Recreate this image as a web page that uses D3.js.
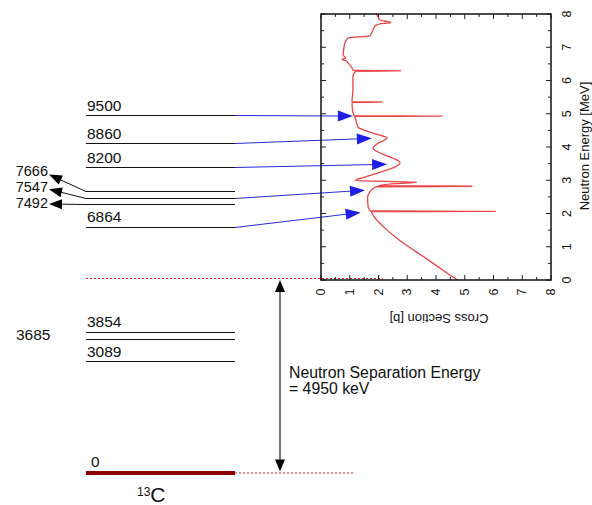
<!DOCTYPE html>
<html>
<head>
<meta charset="utf-8">
<script src="https://cdn.jsdelivr.net/npm/d3@7"></script>
<style>
  body { margin: 0; background: #fff; }
  svg { display: block; font-family: "Liberation Sans", Arial, sans-serif; }
</style>
</head>
<body>
<svg id="chart" width="592" height="505"></svg>
<script>
// cross section curve, [neutron energy MeV, sigma b]
var crossSection = [
  [0.00, 4.75], [0.25, 4.32], [0.50, 3.90], [0.75, 3.48], [1.00, 3.05],
  [1.25, 2.65], [1.50, 2.30], [1.75, 2.00], [1.90, 1.85], [2.00, 1.78],
  [2.055, 1.75], [2.066, 6.10], [2.078, 1.72], [2.20, 1.64], [2.47, 1.62],
  [2.65, 1.70], [2.77, 1.85], [2.805, 1.95], [2.82, 5.25], [2.835, 2.00],
  [2.90, 2.60], [2.94, 3.33], [2.99, 1.18], [3.10, 1.55], [3.25, 2.10],
  [3.37, 2.50], [3.52, 2.75], [3.65, 2.55], [3.80, 2.10], [3.97, 1.81],
  [4.12, 2.00], [4.27, 2.30], [4.42, 1.80], [4.60, 1.29], [4.90, 1.18],
  [4.92, 1.17], [4.93, 4.25], [4.94, 1.16], [5.05, 1.11], [5.29, 1.08],
  [5.34, 1.08], [5.35, 2.15], [5.36, 1.08], [5.41, 1.08], [5.70, 1.11],
  [6.10, 1.11], [6.22, 1.15], [6.275, 1.20], [6.29, 2.80], [6.305, 1.12],
  [6.38, 1.08], [6.53, 0.94], [6.60, 0.86], [6.63, 0.73], [6.68, 0.86],
  [6.77, 0.77], [7.00, 0.80], [7.13, 0.83], [7.28, 0.94], [7.34, 1.70],
  [7.52, 1.81], [7.64, 1.88], [7.70, 2.05], [7.74, 2.43], [7.82, 2.05],
  [7.97, 1.95], [8.00, 1.93]
];

var xTicks = [0, 1, 2, 3, 4, 5, 6, 7, 8];
var yTicks = [0, 1, 2, 3, 4, 5, 6, 7, 8];

// 13C levels in keV
var sepEnergy = 4950;
var topLabelLevels = [0, 3089, 3854, 6864, 8200, 8860, 9500];
var sideLabelLevels = [7492, 7547, 7666];
var plainSideLevels = [3685];
var allLevels = [3089, 3685, 3854, 6864, 7492, 7547, 7666, 8200, 8860, 9500];

// resonances pointed at by blue arrows
var resLevels = [6864, 7547, 8200, 8860, 9500];
var resEn = [2.03, 2.70, 3.48, 4.26, 4.93];
var resSigma = [1.38, 1.53, 2.30, 1.77, 1.11];

var svg = d3.select('#chart');

// schematic level scheme (not to scale)
var yLevel = d3.scaleLinear()
  .domain([0, 3089, 3685, 3854, 4950, 6864, 7492, 7547, 7666, 8200, 8860, 9500])
  .range([473, 361, 338.5, 331.5, 279, 226.5, 204, 197.5, 191, 167, 143, 115]);
var lx0 = 86, lx1 = 235;

var x = d3.scaleLinear().domain([0, 8]).range([321, 551]);
var y = d3.scaleLinear().domain([0, 8]).range([280, 14]);

function arrowHead(g, tx, ty, fx, fy, len, half, color) {
  var a = Math.atan2(ty - fy, tx - fx);
  var bx = tx - len * Math.cos(a), by = ty - len * Math.sin(a);
  var px = -Math.sin(a) * half, py = Math.cos(a) * half;
  g.append('path')
    .attr('d', 'M' + tx + ',' + ty + 'L' + (bx + px) + ',' + (by + py) + 'L' + (bx - px) + ',' + (by - py) + 'Z')
    .attr('fill', color);
}

// dotted lines for separation energy and ground state
svg.append('line')
  .attr('x1', lx0).attr('x2', x(2.15))
  .attr('y1', yLevel(sepEnergy) - 0.5).attr('y2', yLevel(sepEnergy) - 0.5)
  .attr('stroke', '#e02020').attr('stroke-width', 1).attr('stroke-dasharray', '2,2');
svg.append('line')
  .attr('x1', lx1).attr('x2', 355)
  .attr('y1', yLevel(0)).attr('y2', yLevel(0))
  .attr('stroke', '#e02020').attr('stroke-width', 1).attr('stroke-dasharray', '2,2');

// levels
svg.selectAll('.level')
  .data(allLevels)
  .enter()
  .append('line')
  .attr('class', 'level')
  .attr('x1', lx0).attr('x2', lx1)
  .attr('y1', function (d) { return Math.round(yLevel(d)) + 0.5; })
  .attr('y2', function (d) { return Math.round(yLevel(d)) + 0.5; })
  .attr('stroke', '#111').attr('stroke-width', 1);

svg.append('line')
  .attr('x1', lx0).attr('x2', lx1)
  .attr('y1', yLevel(0)).attr('y2', yLevel(0))
  .attr('stroke', '#8b0000').attr('stroke-width', 4);

svg.selectAll('.lvlabel')
  .data(topLabelLevels)
  .enter()
  .append('text')
  .attr('class', 'lvlabel')
  .attr('x', function (d) { return d === 0 ? 91 : 87; })
  .attr('y', function (d) { return yLevel(d) - (d === 0 ? 6 : 4.5); })
  .attr('font-size', 15.5)
  .attr('fill', '#111')
  .text(function (d) { return d; });

svg.selectAll('.plainside')
  .data(plainSideLevels)
  .enter()
  .append('text')
  .attr('x', 16)
  .attr('y', function (d) { return yLevel(d) + 1.5; })
  .attr('font-size', 15.5)
  .attr('fill', '#111')
  .text(function (d) { return d; });

// crowded levels labelled on the left with arrows
var side = svg.append('g');
sideLabelLevels.forEach(function (d, i) {
  var ty = yLevel(sideLabelLevels[0]) - i * 14.7;
  var tx = 49;
  var ly = Math.round(yLevel(d)) + 0.5;
  side.append('line')
    .attr('x1', lx0).attr('y1', ly)
    .attr('x2', tx + 8).attr('y2', ty + (ly - ty) * 8 / (lx0 - tx))
    .attr('stroke', '#111').attr('stroke-width', 1);
  arrowHead(side, tx, ty, lx0, ly, 13, 5, '#000');
  side.append('text')
    .attr('x', 48).attr('y', yLevel(sideLabelLevels[0]) - 1 - i * 16)
    .attr('text-anchor', 'end')
    .attr('dominant-baseline', 'central')
    .attr('font-size', 14.5)
    .attr('fill', '#111')
    .text(d);
});

// blue arrows to the resonances
var blue = svg.append('g');
resLevels.forEach(function (d, i) {
  var fx = lx1, fy = Math.round(yLevel(d)) + 0.5;
  var tx = x(resSigma[i]), ty = y(resEn[i]);
  var a = Math.atan2(ty - fy, tx - fx);
  blue.append('line')
    .attr('x1', fx).attr('y1', fy)
    .attr('x2', tx - 12 * Math.cos(a)).attr('y2', ty - 12 * Math.sin(a))
    .attr('stroke', '#2a2ae0').attr('stroke-width', 1);
  arrowHead(blue, tx, ty, fx, fy, 15, 5.5, '#1f1fe6');
});

// separation energy arrow
var sep = svg.append('g');
var sx = 280;
sep.append('line')
  .attr('x1', sx).attr('x2', sx)
  .attr('y1', yLevel(sepEnergy) + 10).attr('y2', yLevel(0) - 10)
  .attr('stroke', '#7a7a7a').attr('stroke-width', 2);
arrowHead(sep, sx, yLevel(sepEnergy) + 1, sx, yLevel(0), 12, 5, '#000');
arrowHead(sep, sx, yLevel(0) - 1.5, sx, yLevel(sepEnergy), 12, 5, '#000');

svg.append('text')
  .attr('x', 289).attr('y', 378)
  .attr('font-size', 15.8).attr('fill', '#111')
  .text('Neutron Separation Energy');
svg.append('text')
  .attr('x', 289).attr('y', 394)
  .attr('font-size', 15.8).attr('fill', '#111')
  .text('= ' + sepEnergy + ' keV');

var iso = svg.append('text')
  .attr('x', 137).attr('y', 502)
  .attr('fill', '#111');
iso.append('tspan').attr('font-size', 12).attr('dy', -6).text('13');
iso.append('tspan').attr('font-size', 21).attr('dy', 6).text('C');

// plot frame with inward ticks
var plot = svg.append('g');
var minor = d3.range(0, 8.01, 0.5);
minor.forEach(function (v) {
  var len = (v % 1 === 0) ? 5 : 3;
  plot.append('line').attr('x1', x(v)).attr('x2', x(v))
    .attr('y1', y(0)).attr('y2', y(0) - len).attr('stroke', '#222');
  plot.append('line').attr('x1', x(v)).attr('x2', x(v))
    .attr('y1', y(8)).attr('y2', y(8) + len).attr('stroke', '#222');
  plot.append('line').attr('y1', y(v)).attr('y2', y(v))
    .attr('x1', x(0)).attr('x2', x(0) + len).attr('stroke', '#222');
  plot.append('line').attr('y1', y(v)).attr('y2', y(v))
    .attr('x1', x(8)).attr('x2', x(8) - len).attr('stroke', '#222');
});

var line = d3.line()
  .x(function (d) { return x(d[1]); })
  .y(function (d) { return y(d[0]); })
  .curve(d3.curveMonotoneY);

plot.append('path')
  .datum(crossSection.slice().reverse())
  .attr('d', line)
  .attr('fill', 'none')
  .attr('stroke', '#ea4444')
  .attr('stroke-width', 1.3);

plot.append('rect')
  .attr('x', x(0)).attr('y', y(8))
  .attr('width', x(8) - x(0)).attr('height', y(0) - y(8))
  .attr('fill', 'none').attr('stroke', '#111').attr('stroke-width', 1.5);

plot.selectAll('.xt')
  .data(xTicks)
  .enter()
  .append('text')
  .attr('transform', function (d) { return 'translate(' + x(d) + ',292) rotate(-90)'; })
  .attr('text-anchor', 'middle')
  .attr('dominant-baseline', 'central')
  .attr('font-size', 12.5)
  .attr('fill', '#111')
  .text(function (d) { return d; });

plot.selectAll('.yt')
  .data(yTicks)
  .enter()
  .append('text')
  .attr('transform', function (d) { return 'translate(567,' + y(d) + ') rotate(-90)'; })
  .attr('text-anchor', 'middle')
  .attr('dominant-baseline', 'central')
  .attr('font-size', 12.5)
  .attr('fill', '#111')
  .text(function (d) { return d; });

plot.append('text')
  .attr('transform', 'translate(584,146) rotate(-90)')
  .attr('text-anchor', 'middle')
  .attr('dominant-baseline', 'central')
  .attr('font-size', 13)
  .attr('fill', '#111')
  .text('Neutron Energy [MeV]');

plot.append('text')
  .attr('transform', 'translate(439,318) rotate(180)')
  .attr('text-anchor', 'middle')
  .attr('dominant-baseline', 'central')
  .attr('font-size', 13)
  .attr('fill', '#111')
  .text('Cross Section [b]');
</script>
</body>
</html>
